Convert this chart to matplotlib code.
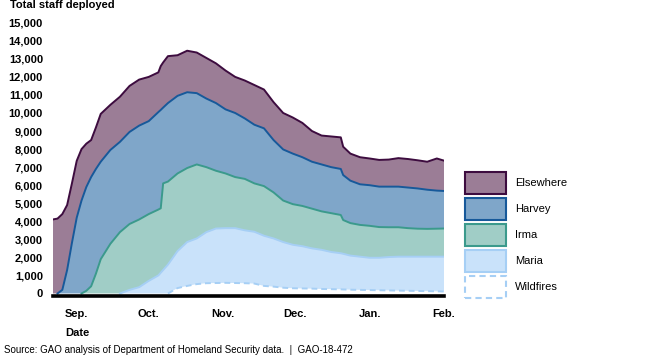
import numpy as np
import pandas as pd
import matplotlib
matplotlib.use("Agg")
import matplotlib.pyplot as plt
from matplotlib.patches import Patch

plt.rcParams["font.family"] = ["Liberation Sans", "DejaVu Sans"]

# days relative to 1 Sep 2017
days = [-10, -8, -6, -4, -2, 0, 2, 4, 6, 8, 10,
        14, 18, 22, 26, 30, 34, 35, 36, 38,
        42, 46, 50, 54, 58, 62, 66, 70, 74, 78, 82, 86, 90, 94, 98, 102, 106, 110,
        111, 114, 118, 122, 126, 130, 134, 138, 142, 146, 150, 153]

wildfires = [0, 0, 0, 0, 0, 0, 0, 0, 0, 0, 0,
             0, 0, 0, 0, 0, 0, 0, 0, 0,
             300, 420, 520, 570, 580, 590, 580, 570, 550, 420, 380, 320, 290, 280, 270, 250, 240, 230,
             225, 210, 200, 190, 180, 170, 160, 150, 140, 130, 120, 110]
maria = [0, 0, 0, 0, 0, 0, 0, 0, 0, 0, 0,
         0, 0, 200, 350, 700, 1000, 1150, 1300, 1600,
         2050, 2430, 2530, 2830, 3020, 3030, 3040, 2930, 2870, 2780, 2670, 2530, 2410, 2340, 2230, 2170, 2060, 2000,
         1975, 1890, 1840, 1790, 1800, 1850, 1880, 1890, 1900, 1910, 1920, 1930]
irma = [0, 0, 0, 0, 0, 0, 0, 150, 400, 1100, 1900,
        2750, 3400, 3650, 3750, 3700, 3650, 3570, 4800, 4600,
        4300, 4100, 4100, 3600, 3200, 3030, 2830, 2850, 2680, 2750, 2550, 2300, 2250, 2230, 2200, 2130, 2150, 2120,
        1870, 1800, 1760, 1770, 1700, 1650, 1630, 1580, 1550, 1540, 1550, 1560]
harvey = [0, 0, 200, 1300, 2800, 4200, 5150, 5750, 6050, 5800, 5400,
          5200, 5000, 5100, 5200, 5150, 5400, 5450, 4200, 4350,
          4300, 4200, 3950, 3800, 3750, 3550, 3550, 3350, 3250, 3200, 2900, 2830, 2800, 2700, 2600, 2600, 2550, 2550,
          2490, 2350, 2250, 2250, 2240, 2250, 2250, 2250, 2230, 2170, 2110, 2080]
elsewhere = [4100, 4150, 4200, 3600, 3300, 3150, 2850, 2400, 2050, 2300, 2650,
             2500, 2500, 2550, 2550, 2450, 2200, 2430, 2500, 2600,
             2250, 2300, 2250, 2250, 2200, 2150, 2000, 2100, 2200, 2150, 2100, 2020, 2000, 1900, 1700, 1600, 1700, 1750,
             1570, 1500, 1500, 1480, 1480, 1500, 1580, 1580, 1560, 1550, 1780, 1680]

month_ticks = ["2017-09-01", "2017-10-01", "2017-11-01", "2017-12-01", "2018-01-01", "2018-02-01"]
month_labels = ["Sep.", "Oct.", "Nov.", "Dec.", "Jan.", "Feb."]

labels = ["Wildfires", "Maria", "Irma", "Harvey", "Elsewhere"]
fills = ["white", "#c9e2fa", "#a0cdc6", "#7fa6c9", "#9b7d96"]
edges = ["#a6cff5", "#a6cff5", "#3b9a8c", "#17599a", "#3d0c3f"]

dates = (pd.Timestamp("2017-09-01") + pd.to_timedelta(days, unit="D")).values
layers = np.array([wildfires, maria, irma, harvey, elsewhere], dtype=float)
tops = np.cumsum(layers, axis=0)
bottoms = np.vstack([np.zeros(len(days)), tops[:-1]])

fig = plt.figure(figsize=(6.5, 3.61), dpi=100)
ax = fig.add_axes([0.0811, 0.1795, 0.602, 0.7575])

for i in range(len(labels)):
    ax.fill_between(dates, bottoms[i], tops[i], facecolor=fills[i],
                    linewidth=0, zorder=1)
for i in range(len(labels)):
    nz = np.nonzero(tops[i] > 0)[0]
    s = max(nz[0] - 1, 0)
    ls = (0, (3, 2)) if labels[i] == "Wildfires" else "-"
    ax.plot(dates[s:], tops[i][s:], color=edges[i], lw=1.4, linestyle=ls,
            solid_joinstyle="round", zorder=2)

ax.set_xlim(pd.Timestamp("2017-08-22"), pd.Timestamp("2018-02-01"))
ax.set_ylim(-150, 15000)
ax.set_yticks(range(0, 15001, 1000))
ax.set_yticklabels([f"{v:,}" for v in range(0, 15001, 1000)],
                   fontsize=8, fontweight="bold")
ax.set_xticks(pd.to_datetime(month_ticks))
ax.set_xticklabels(month_labels, fontsize=8, fontweight="bold")
ax.tick_params(axis="y", length=0, pad=7)
ax.tick_params(axis="x", length=0, pad=9)
for sp in ("left", "top", "right"):
    ax.spines[sp].set_visible(False)
ax.spines["bottom"].set_linewidth(2.6)
ax.spines["bottom"].set_zorder(3)

fig.text(10 / 650, 1 - 5 / 361, "Total staff deployed", fontsize=8,
         fontweight="bold", va="center", ha="left")
fig.text(65 / 650, 1 - 333 / 361, "Date", fontsize=8, fontweight="bold",
         va="center", ha="left")
fig.text(4 / 650, 1 - 350 / 361,
         "Source: GAO analysis of Department of Homeland Security data.  |  GAO-18-472",
         fontsize=7, va="center", ha="left")

handles = []
for i in reversed(range(len(labels))):
    ls = (0, (3, 2)) if labels[i] == "Wildfires" else "-"
    handles.append(Patch(facecolor=fills[i], edgecolor=edges[i], linewidth=1.5,
                         linestyle=ls, label=labels[i]))
fig.legend(handles=handles, loc="upper left", bbox_to_anchor=(465 / 650, 1 - 172 / 361),
           frameon=False, fontsize=8, handlelength=3.7, handleheight=2.67,
           labelspacing=0.36, handletextpad=0.8, borderpad=0, borderaxespad=0)

fig.savefig("out.png", dpi=100)
